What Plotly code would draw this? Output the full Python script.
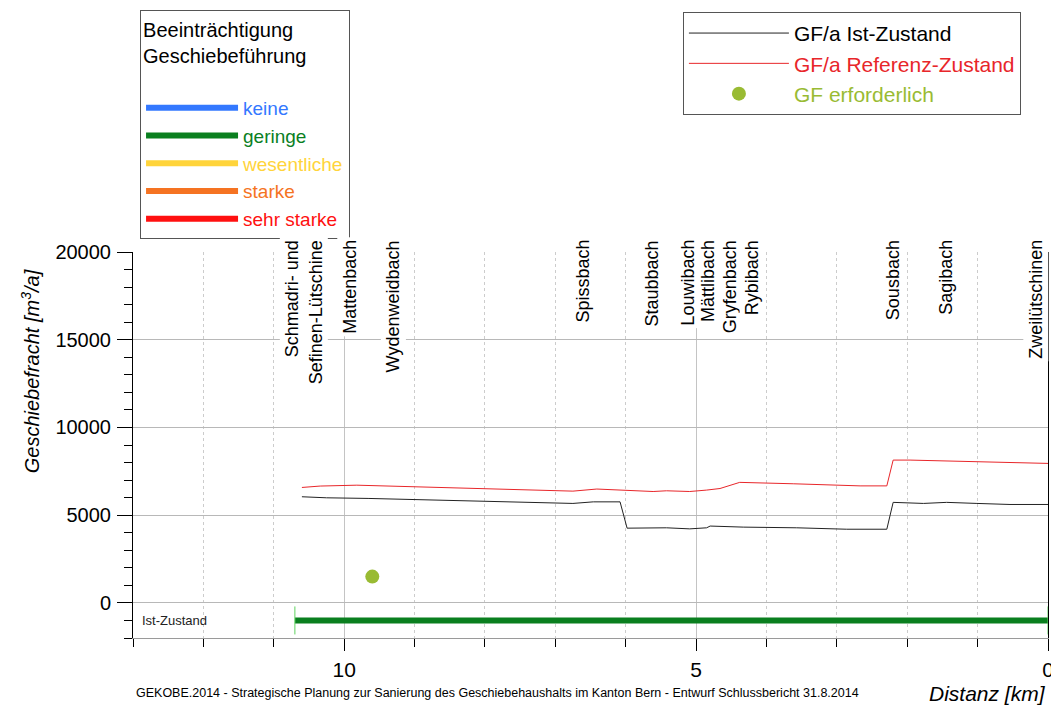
import plotly.graph_objects as go

# ---------------- data ----------------
ist_km = [10.60, 10.25, 9.66, 9.13, 8.54, 7.95, 7.36, 6.75, 6.46, 6.08, 5.98, 5.42, 5.09,
          4.85, 4.80, 4.33, 3.57, 2.86, 2.29, 2.20, 1.77, 1.44, 1.01, 0.54, 0.0]
ist_val = [6050, 5990, 5955, 5900, 5840, 5780, 5730, 5670, 5760, 5760, 4260, 4280, 4220,
           4280, 4380, 4320, 4280, 4200, 4200, 5730, 5670, 5730, 5670, 5610, 5610]

ref_km = [10.60, 10.34, 9.82, 9.35, 8.74, 8.26, 7.74, 7.26, 6.75, 6.41, 6.13, 5.98, 5.61,
          5.42, 5.09, 4.85, 4.66, 4.38, 4.00, 3.62, 3.14, 2.67, 2.29, 2.20, 1.96, 1.01,
          0.63, 0.26, 0.0]
ref_val = [6580, 6660, 6710, 6660, 6580, 6530, 6470, 6430, 6370, 6490, 6430, 6410, 6350,
           6390, 6350, 6430, 6520, 6870, 6810, 6790, 6730, 6670, 6670, 8140, 8140, 8040,
           7990, 7950, 7950]

gf_req_km = [9.60]
gf_req_val = [1500]

impair_classes = ["keine", "geringe", "wesentliche", "starke", "sehr starke"]
impair_colors = ["#3378ff", "#0a7f1f", "#ffd43b", "#f57322", "#ff1010"]
ist_zustand_km = {"geringe": [10.70, 0.0]}
ist_zustand_level = -1000

trib_names = ["Schmadri- und<br>Sefinen-Lütschine", "Mattenbach", "Wydenweidbach",
              "Spissbach", "Staubbach", "Louwibach", "Mättlibach", "Gryfenbach",
              "Rybibach", "Sousbach", "Sagibach", "Zweilütschinen"]
trib_km = [10.58, 9.92, 9.30, 6.62, 5.62, 5.12, 4.83, 4.52, 4.21, 2.20, 1.46, 0.18]

FONT = "Liberation Sans, Arial, Helvetica, sans-serif"

fig = go.Figure()

# impairment classes (legend 1)
for name, col in zip(impair_classes, impair_colors):
    xs = ist_zustand_km.get(name, [None])
    ys = [ist_zustand_level] * len(xs) if name in ist_zustand_km else [None]
    fig.add_trace(go.Scatter(
        x=xs, y=ys, mode="lines", line=dict(color=col, width=6),
        name=f'<span style="color:{col}">{name}</span>',
        legend="legend", legendgroup=name, hoverinfo="skip"))
    if name in ist_zustand_km:
        fig.add_trace(go.Scatter(
            x=xs, y=ys, mode="markers",
            marker=dict(symbol="line-ns-open", size=20, color="#5fd35f",
                        line=dict(color="#5fd35f", width=1)),
            showlegend=False, hoverinfo="skip"))

# lines (legend 2)
fig.add_trace(go.Scatter(
    x=ist_km, y=ist_val, mode="lines", line=dict(color="#222222", width=1),
    name='<span style="color:#000000">GF/a Ist-Zustand</span>', legend="legend2"))
fig.add_trace(go.Scatter(
    x=ref_km, y=ref_val, mode="lines", line=dict(color="#e8262a", width=1),
    name='<span style="color:#e8262a">GF/a Referenz-Zustand</span>', legend="legend2"))
fig.add_trace(go.Scatter(
    x=gf_req_km, y=gf_req_val, mode="markers",
    marker=dict(color="#99bb33", size=14),
    name='<span style="color:#99bb33">GF erforderlich</span>', legend="legend2"))

annotations = []
for nm, km in zip(trib_names, trib_km):
    annotations.append(dict(
        x=km, xref="x", y=1, yref="paper", yshift=15, yanchor="top", xanchor="center",
        text=nm, textangle=-90, showarrow=False, align="right",
        bgcolor="white", borderpad=2, font=dict(family=FONT, size=18, color="black")))

annotations.append(dict(
    x=0.008, xref="paper", y=ist_zustand_level, yref="y", xanchor="left", yanchor="middle",
    text="Ist-Zustand", showarrow=False, font=dict(family=FONT, size=13, color="#222")))
annotations.append(dict(
    x=1, xref="paper", y=-0.143, yref="paper", xanchor="right", yanchor="middle",
    text="<i>Distanz [km]</i>", showarrow=False, font=dict(family=FONT, size=21, color="black")))
annotations.append(dict(
    x=0.398, xref="paper", y=-0.143, yref="paper", xanchor="center", yanchor="middle",
    text="GEKOBE.2014 - Strategische Planung zur Sanierung des Geschiebehaushalts im Kanton Bern - Entwurf Schlussbericht 31.8.2014",
    showarrow=False, font=dict(family=FONT, size=12.5, color="black")))
annotations.append(dict(
    x=-0.1126, xref="paper", y=0.691, yref="paper", xanchor="center", yanchor="middle",
    text="<i>Geschiebefracht [m<sup>3</sup>/a]</i>", textangle=-90, showarrow=False,
    font=dict(family=FONT, size=20, color="black")))

fig.update_layout(
    width=1051, height=706,
    margin=dict(l=133, r=3, t=252, b=68, autoexpand=False),
    paper_bgcolor="white", plot_bgcolor="white",
    font=dict(family=FONT, size=18, color="black"),
    annotations=annotations,
    legend=dict(
        x=0.0077, y=1.627, xanchor="left", yanchor="top",
        bgcolor="white", bordercolor="#555555", borderwidth=1,
        title=dict(text="Beeinträchtigung<br>Geschiebeführung<br> ", font=dict(size=20)),
        font=dict(size=19), itemwidth=92, traceorder="normal"),
    legend2=dict(
        x=0.601, y=1.622, xanchor="left", yanchor="top",
        bgcolor="white", bordercolor="#555555", borderwidth=1,
        font=dict(size=21), itemwidth=100, traceorder="normal"),
    xaxis=dict(
        range=[13, 0], dtick=5, tick0=0, ticks="outside", ticklen=12, tickcolor="black",
        showgrid=True, gridcolor="#c4c4c4", gridwidth=1, automargin=False,
        showline=True, linecolor="#9a9a9a", linewidth=1, zeroline=False,
        tickfont=dict(size=21), ticklabelstandoff=1, ticklabeloverflow="allow",
        minor=dict(dtick=1, tick0=0, ticks="outside", ticklen=8, tickcolor="black",
                   showgrid=True, gridcolor="#cccccc", griddash="dot", gridwidth=1)),
    yaxis=dict(
        range=[-2000, 20000], dtick=5000, tick0=0, ticks="outside", ticklen=15,
        tickcolor="black", showgrid=True, gridcolor="#b8b8b8", gridwidth=1,
        showline=True, linecolor="black", linewidth=1, mirror=True, zeroline=False,
        automargin=False,
        tickformat="d", tickfont=dict(size=20), ticklabelstandoff=2,
        minor=dict(dtick=1000, tick0=0, ticks="outside", ticklen=8, tickcolor="black",
                   showgrid=False)),
)

fig.write_html("out.html", config={"displayModeBar": False},
               post_script="document.body.style.margin='0px';document.body.style.overflow='hidden';")
